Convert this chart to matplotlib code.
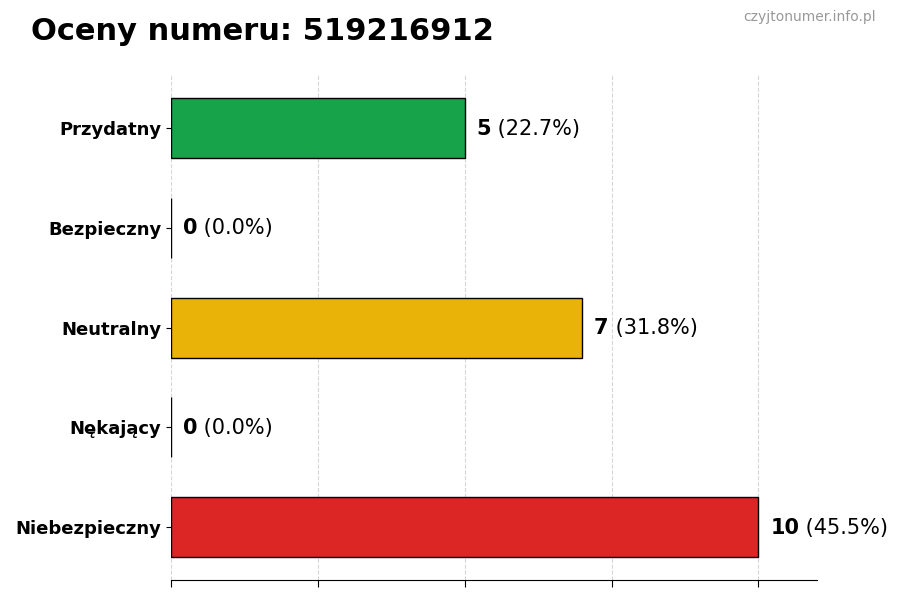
import matplotlib
matplotlib.use("Agg")
import matplotlib.pyplot as plt

categories = ["Niebezpieczny", "Nękający", "Neutralny", "Bezpieczny", "Przydatny"]
counts = [10, 0, 7, 0, 5]
colors = ["#dc2626", "#6b7280", "#eab308", "#22c55e", "#16a34a"]
x_ticks = [0, 2.5, 5, 7.5, 10]

total = sum(counts)

fig = plt.figure(figsize=(9, 6), dpi=100)
ax = fig.add_axes([0.19, 0.033, 0.718, 0.842])

bars = ax.barh(categories, counts, height=0.6, color=colors,
               edgecolor="black", linewidth=1)

for bar, c in zip(bars, counts):
    y = bar.get_y() + bar.get_height() / 2
    pct = 100 * c / total
    t = ax.annotate(f"{c}", xy=(c, y), xytext=(8.5, -0.5), textcoords="offset points",
                    va="center", ha="left", fontsize=15, fontweight="bold")
    ax.annotate(f" ({pct:.1f}%)", xycoords=t, xy=(1, 0.5), va="center",
                ha="left", fontsize=15)

ax.set_xlim(0, 11)
ax.set_xticks(x_ticks)
ax.tick_params(axis="x", labelbottom=False, length=5)
ax.tick_params(axis="y", labelsize=13)
for lbl in ax.get_yticklabels():
    lbl.set_fontweight("bold")

ax.grid(axis="x", linestyle="--", color="#cccccc", alpha=0.8)
ax.set_axisbelow(True)
for s in ["top", "right", "left"]:
    ax.spines[s].set_visible(False)

fig.text(0.034, 0.948, "Oceny numeru: 519216912", fontsize=22,
         fontweight="bold", va="center", ha="left")
fig.text(0.973, 0.971, "czyjtonumer.info.pl", fontsize=10, color="#999999",
         va="center", ha="right")

fig.savefig("out.png", dpi=100)
